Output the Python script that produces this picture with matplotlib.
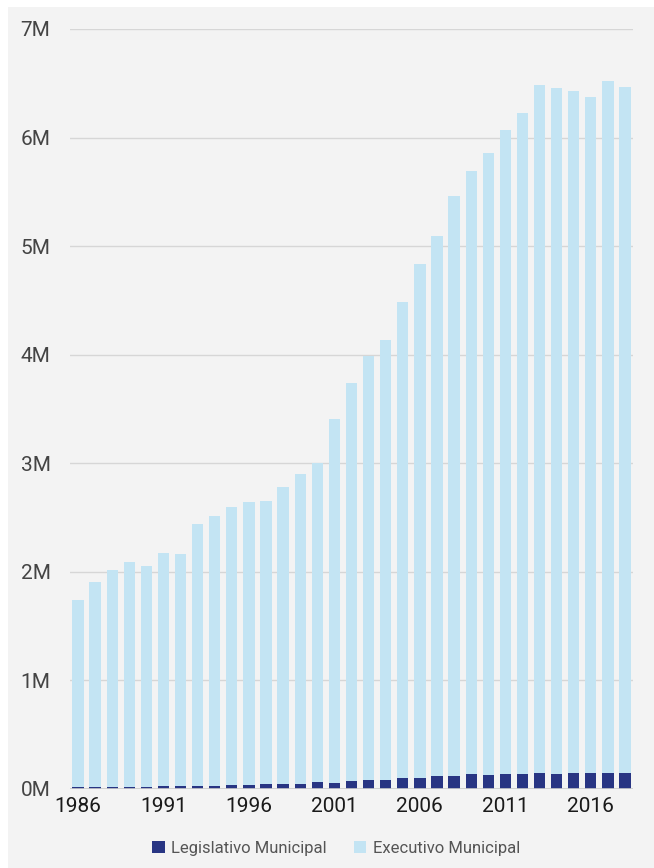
import matplotlib.pyplot as plt
from matplotlib.patches import Rectangle
from matplotlib.ticker import FuncFormatter

plt.rcParams['font.family'] = ['Roboto', 'DejaVu Sans']

years = list(range(1986, 2019))
# valores em milhoes
totais = [1.74, 1.91, 2.02, 2.09, 2.05, 2.17, 2.16, 2.44, 2.51, 2.60,
          2.64, 2.65, 2.78, 2.90, 3.00, 3.41, 3.74, 3.99, 4.14, 4.49,
          4.84, 5.09, 5.46, 5.69, 5.86, 6.07, 6.23, 6.48, 6.46, 6.43,
          6.37, 6.52, 6.47]
legislativo = [0.021, 0.021, 0.021, 0.021, 0.022, 0.030, 0.030, 0.030, 0.031, 0.033,
               0.040, 0.049, 0.049, 0.050, 0.062, 0.058, 0.070, 0.083, 0.083, 0.098,
               0.098, 0.120, 0.120, 0.141, 0.129, 0.138, 0.138, 0.150, 0.141, 0.150,
               0.150, 0.150, 0.150]
executivo = [t - l for t, l in zip(totais, legislativo)]
xticks = [1986, 1991, 1996, 2001, 2006, 2011, 2016]

cor_leg = '#283583'
cor_exe = '#c3e4f3'
fundo = '#f3f3f3'

W, H = 654, 868
fig = plt.figure(figsize=(W / 100, H / 100), dpi=100, facecolor='white')
fig.patches.append(Rectangle((8 / W, 0), 1 - 8 / W, (H - 7) / H,
                             transform=fig.transFigure, facecolor=fundo,
                             edgecolor='none', zorder=-10))

ax = fig.add_axes([70 / W, (H - 789) / H, (633 - 70) / W, (789 - 29) / H])
ax.set_facecolor(fundo)
ax.patch.set_alpha(0)

ax.bar(years, [v * 1e6 for v in legislativo], width=0.66, color=cor_leg,
       label='Legislativo Municipal', zorder=3)
ax.bar(years, [v * 1e6 for v in executivo], width=0.66, bottom=[v * 1e6 for v in legislativo],
       color=cor_exe, label='Executivo Municipal', zorder=3)

ax.set_ylim(0, 7e6)
ax.set_xlim(1986 - 0.47, 2018 + 0.47)
ax.set_yticks([i * 1e6 for i in range(8)])
ax.yaxis.set_major_formatter(FuncFormatter(lambda v, p: f'{int(round(v / 1e6))}M'))
ax.set_xticks(xticks)
ax.grid(axis='y', color='#d6d6d6', linewidth=1, zorder=0)
ax.axhline(0, color='#cccccc', linewidth=1.2, zorder=4)

for s in ax.spines.values():
    s.set_visible(False)
ax.tick_params(axis='both', length=0)
ax.tick_params(axis='y', labelsize=15, labelcolor='#444444', pad=14)
ax.tick_params(axis='x', labelsize=15, labelcolor='#1a1a1a', pad=6)

leg = fig.legend(loc='center', bbox_to_anchor=(336 / W, (H - 848) / H), ncol=2,
                 frameon=False, fontsize=12, handlelength=0.75, handleheight=0.75,
                 handletextpad=0.4, columnspacing=1.6)
for t in leg.get_texts():
    t.set_color('#555555')

fig.savefig('out.png', dpi=100, facecolor='white')
